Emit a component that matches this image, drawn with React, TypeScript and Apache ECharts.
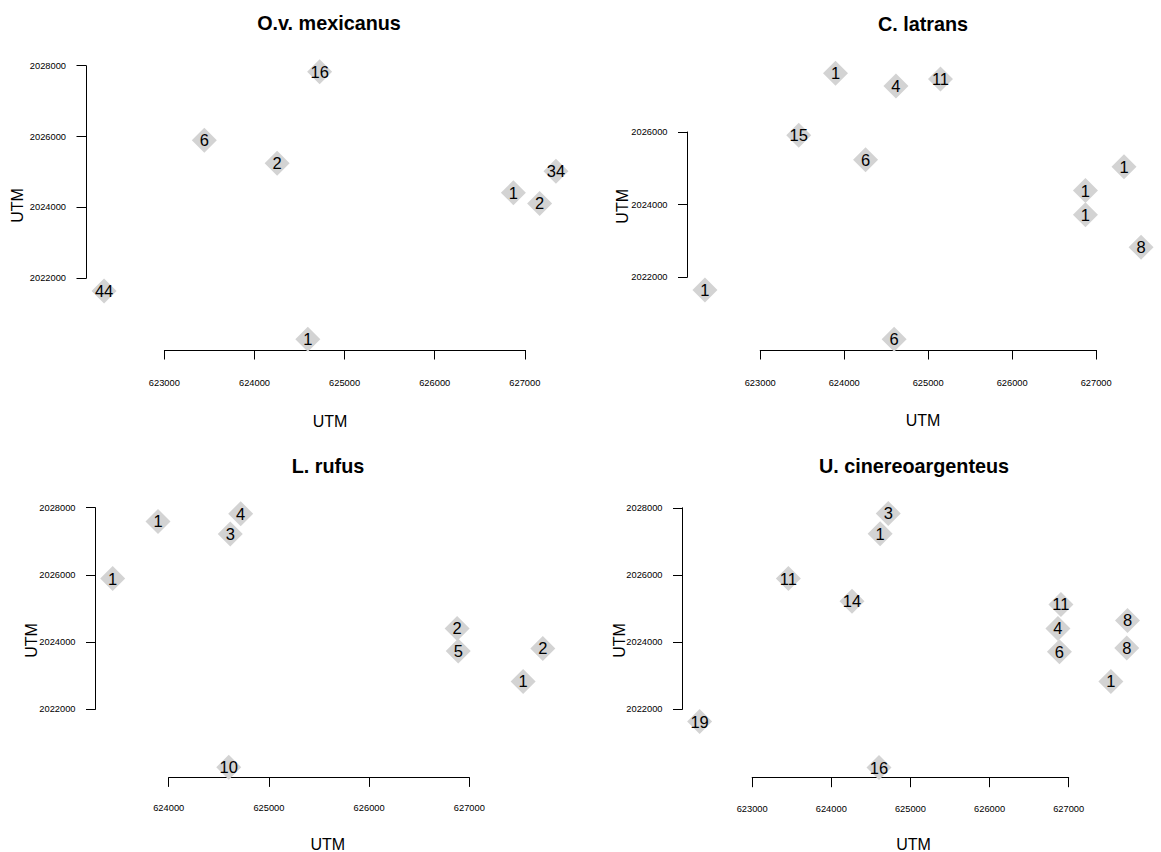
import React, { useEffect, useRef } from "react";
import * as echarts from "echarts";

// ---------- DATA ----------
const titles = ["O.v. mexicanus", "C. latrans", "L. rufus", "U. cinereoargenteus"];

const ovX = [624723, 623443, 624251, 627345, 626873, 627164, 622331, 624592];
const ovY = [2027831, 2025896, 2025247, 2025022, 2024414, 2024113, 2021643, 2020278];
const ovN = [16, 6, 2, 34, 1, 2, 44, 1];

const clX = [623896, 624616, 625146, 623459, 624254, 627331, 626872, 626872, 627534, 622342, 624594];
const clY = [2027618, 2027269, 2027462, 2025908, 2025237, 2025044, 2024386, 2023715, 2022823, 2021641, 2020280];
const clN = [1, 4, 11, 15, 6, 1, 1, 1, 8, 1, 6];

const lrX = [623441, 623893, 624718, 624614, 626878, 626889, 627733, 627537, 624599];
const lrY = [2025891, 2027593, 2027821, 2027216, 2024407, 2023732, 2023812, 2022829, 2020274];
const lrN = [1, 1, 4, 3, 2, 5, 2, 1, 10];

const ucX = [624720, 624617, 623458, 624262, 626902, 626864, 626883, 627743, 627734, 627533, 622336, 624603];
const ucY = [2027831, 2027226, 2025891, 2025216, 2025121, 2024407, 2023712, 2024645, 2023821, 2022829, 2021633, 2020264];
const ucN = [3, 1, 11, 14, 11, 4, 6, 8, 8, 1, 19, 16];

const xTicksA = [623000, 624000, 625000, 626000, 627000];
const xTicksB = [624000, 625000, 626000, 627000];
const yTicksA = [2022000, 2024000, 2026000, 2028000];
const yTicksB = [2022000, 2024000, 2026000];

const axisTitle = "UTM";

const panelData = [
  { xs: ovX, ys: ovY, ns: ovN, xt: xTicksA, yt: yTicksA },
  { xs: clX, ys: clY, ns: clN, xt: xTicksA, yt: yTicksB },
  { xs: lrX, ys: lrY, ns: lrN, xt: xTicksB, yt: yTicksA },
  { xs: ucX, ys: ucY, ns: ucN, xt: xTicksA, yt: yTicksA },
];

// ---------- LAYOUT (plot regions in px) ----------
const layout = [
  { l: 86, r: 574, t: 61, b: 350, cx: 329, titleY: 13, xGap: 63, yGap: 61, xMargin: 28 },
  { l: 687.5, r: 1158.5, t: 62.7, b: 350, cx: 923, titleY: 14, xGap: 62.5, yGap: 57, xMargin: 28 },
  { l: 95.5, r: 560, t: 503.6, b: 777.4, cx: 328, titleY: 456, xGap: 59, yGap: 56, xMargin: 26.5 },
  { l: 682.5, r: 1144.6, t: 503.3, b: 777.7, cx: 914, titleY: 456, xGap: 58.5, yGap: 55.5, xMargin: 26.5 },
];

const FONT = "'Liberation Sans', Arial, Helvetica, sans-serif";

function usrRange(a: number[]): [number, number] {
  const mn = Math.min(...a);
  const mx = Math.max(...a);
  const d = (mx - mn) * 0.04;
  return [mn - d, mx + d];
}

function buildOption() {
  const grid: any[] = [];
  const xAxis: any[] = [];
  const yAxis: any[] = [];
  const series: any[] = [];
  const title: any[] = [];

  panelData.forEach((p, i) => {
    const L = layout[i];
    const W = L.r - L.l;
    const H = L.b - L.t;
    const [ux0, ux1] = usrRange(p.xs);
    const [uy0, uy1] = usrRange(p.ys);
    const xt0 = p.xt[0];
    const xt1 = p.xt[p.xt.length - 1];
    const yt0 = p.yt[0];
    const yt1 = p.yt[p.yt.length - 1];

    const tl = L.l + ((xt0 - ux0) / (ux1 - ux0)) * W;
    const tr = L.l + ((xt1 - ux0) / (ux1 - ux0)) * W;
    const tt = L.t + ((uy1 - yt1) / (uy1 - uy0)) * H;
    const tb = L.t + ((uy1 - yt0) / (uy1 - uy0)) * H;

    const g = i * 2;
    grid.push({ left: L.l, top: L.t, width: W, height: H, outerBoundsMode: "none", containLabel: false });
    grid.push({ left: tl, top: tt, width: tr - tl, height: tb - tt, outerBoundsMode: "none", containLabel: false });

    title.push({
      text: titles[i],
      left: L.cx,
      top: L.titleY,
      textAlign: "center",
      padding: 0,
      textStyle: { fontFamily: FONT, fontSize: 19.8, fontWeight: "bold", color: "#000" },
    });

    const hidden = {
      axisLine: { show: false },
      axisTick: { show: false },
      axisLabel: { show: false },
      splitLine: { show: false },
    };

    xAxis.push({
      gridIndex: g,
      type: "value",
      min: ux0,
      max: ux1,
      name: axisTitle,
      nameLocation: "middle",
      nameGap: L.xGap,
      nameTextStyle: { fontFamily: FONT, fontSize: 16, color: "#000" },
      ...hidden,
    });
    yAxis.push({
      gridIndex: g,
      type: "value",
      min: uy0,
      max: uy1,
      name: axisTitle,
      nameLocation: "middle",
      nameGap: L.yGap,
      nameTextStyle: { fontFamily: FONT, fontSize: 16, color: "#000" },
      ...hidden,
    });

    const axStyle = {
      axisLine: { show: true, lineStyle: { color: "#000", width: 1 } },
      axisTick: { show: true, inside: false, length: 9.5, lineStyle: { color: "#000", width: 1 } },
      splitLine: { show: false },
    };

    xAxis.push({
      gridIndex: g + 1,
      type: "value",
      min: xt0,
      max: xt1,
      interval: p.xt[1] - p.xt[0],
      offset: L.b - tb,
      ...axStyle,
      axisLabel: {
        show: true,
        fontFamily: FONT,
        fontSize: 9.3,
        color: "#000",
        margin: L.xMargin,
        showMinLabel: true,
        showMaxLabel: true,
        formatter: (v: number) => String(v),
      },
    });
    yAxis.push({
      gridIndex: g + 1,
      type: "value",
      min: yt0,
      max: yt1,
      interval: p.yt[1] - p.yt[0],
      offset: tl - L.l,
      ...axStyle,
      axisLabel: {
        show: true,
        fontFamily: FONT,
        fontSize: 9.3,
        color: "#000",
        margin: 20,
        showMinLabel: true,
        showMaxLabel: true,
        formatter: (v: number) => String(v),
      },
    });

    series.push({
      type: "scatter",
      xAxisIndex: g,
      yAxisIndex: g,
      symbol: "diamond",
      symbolSize: 25,
      clip: false,
      itemStyle: { color: "#D3D3D3", opacity: 1 },
      label: {
        show: true,
        position: "inside",
        fontFamily: FONT,
        fontSize: 16.5,
        color: "#000",
        formatter: (prm: any) => String(prm.value[2]),
      },
      emphasis: { disabled: true },
      data: p.xs.map((x, k) => [x, p.ys[k], p.ns[k]]),
    });
  });

  return {
    animation: false,
    backgroundColor: "#fff",
    title,
    grid,
    xAxis,
    yAxis,
    series,
  };
}

export default function App() {
  const ref = useRef<HTMLDivElement>(null);
  useEffect(() => {
    if (!ref.current) return;
    const chart = echarts.init(ref.current, undefined, { renderer: "svg" });
    chart.setOption(buildOption() as any);
    return () => chart.dispose();
  }, []);
  return (
    <div
      ref={ref}
      style={{ position: "absolute", left: 0, top: 0, width: 1161, height: 852, background: "#fff" }}
    />
  );
}
